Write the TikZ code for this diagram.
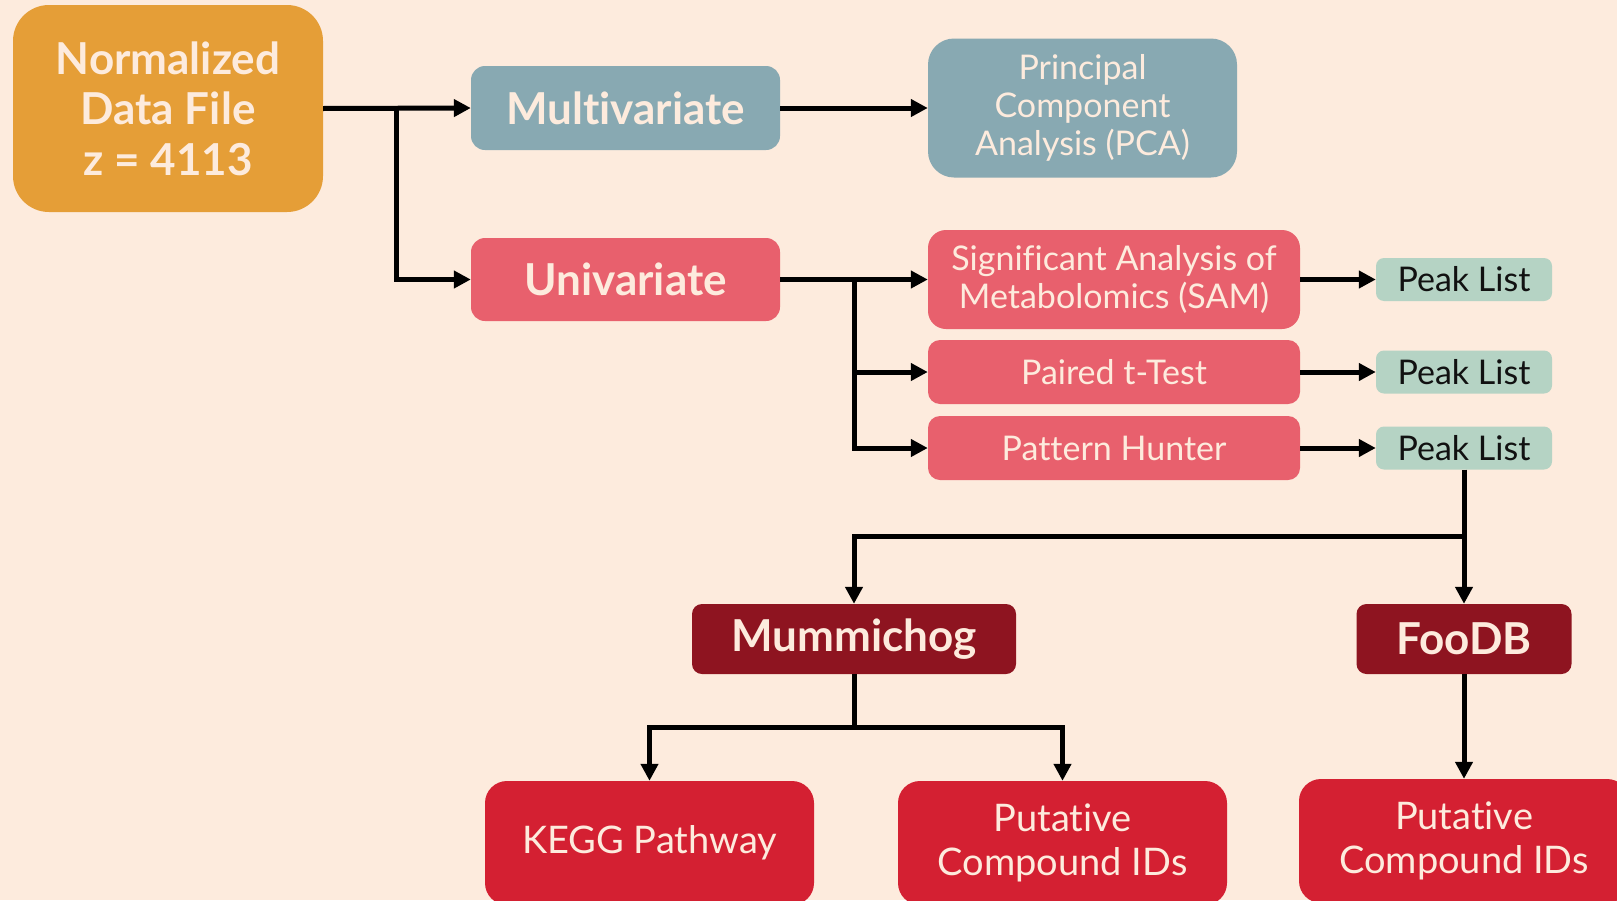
\documentclass[tikz,border=0pt]{standalone}
\usepackage{fontspec}
\setmainfont{Lato}[Ligatures={NoCommon}]
\usetikzlibrary{arrows.meta}
\definecolor{bg}{HTML}{FDEBDD}
\definecolor{cream}{HTML}{FDEBDD}
\definecolor{orangebox}{HTML}{E59E37}
\definecolor{bluebox}{HTML}{88A9B2}
\definecolor{pinkbox}{HTML}{E8606D}
\definecolor{greenbox}{HTML}{B5D3C4}
\definecolor{darkred}{HTML}{8E1420}
\definecolor{redbox}{HTML}{D42032}
\definecolor{ink}{HTML}{111111}
\begin{document}
\begin{tikzpicture}[x=1pt,y=-1pt,
  boxbase/.style={align=center, inner sep=0pt, text=cream},
  bigbold/.style={font=\fontsize{44}{50.5}\selectfont\bfseries},
  midtext/.style={font=\fontsize{34}{38}\selectfont},
  peakbox/.style={boxbase, fill=greenbox, text=ink, rounded corners=8pt, minimum width=176pt, minimum height=43pt, font=\fontsize{34}{38}\selectfont},
  pinkstep/.style={boxbase, fill=pinkbox, minimum width=372pt, midtext},
  botbox/.style={boxbase, fill=redbox, rounded corners=22pt, minimum width=329pt, minimum height=124pt, font=\fontsize{38}{44}\selectfont},
  conn/.style={line width=5pt, -{Triangle[length=17pt,width=17pt]}},
  plain/.style={line width=5pt}]
\useasboundingbox (0,0) rectangle (1617,900);
\fill[bg] (0,0) rectangle (1617,900);
\clip (0,0) rectangle (1617,900);

\node[boxbase, fill=orangebox, rounded corners=36pt, minimum width=310pt, minimum height=207pt, bigbold] (norm) at (168,108.5) {Normalized\\Data File\\z = 4113};
\node[boxbase, fill=bluebox, rounded corners=14pt, minimum width=309pt, minimum height=84pt, bigbold] (mult) at (625.5,108) {Multivariate};
\node[boxbase, fill=pinkbox, rounded corners=14pt, minimum width=309pt, minimum height=83pt, bigbold] (univ) at (625.5,279.5) {Univariate};
\node[boxbase, fill=bluebox, rounded corners=26pt, minimum width=309pt, minimum height=139pt, midtext] (pca) at (1082.5,108) {Principal\\Component\\Analysis (PCA)};
\node[pinkstep, rounded corners=18pt, minimum height=99pt] (sam) at (1114,279.5) {Significant Analysis of\\Metabolomics (SAM)};
\node[pinkstep, rounded corners=12pt, minimum height=64pt] (paired) at (1114,372) {Paired t-Test};
\node[pinkstep, rounded corners=12pt, minimum height=64pt] (pattern) at (1114,448) {Pattern Hunter};
\node[peakbox] (peak1) at (1464,279.5) {Peak List};
\node[peakbox] (peak2) at (1464,372) {Peak List};
\node[peakbox] (peak3) at (1464,448) {Peak List};
\node[boxbase, fill=darkred, rounded corners=10pt, minimum width=324pt, minimum height=70pt, bigbold] (mumm) at (854,639) {Mummichog};
\node[boxbase, fill=darkred, rounded corners=10pt, minimum width=215pt, minimum height=70pt, bigbold] (foodb) at (1464,639) {FooDB};
\node[botbox] (kegg) at (649.5,843) {KEGG Pathway};
\node[botbox] (put1) at (1062.5,843) {Putative\\Compound IDs};
\node[botbox, minimum width=330pt] (put2) at (1464,841) {Putative\\Compound IDs};

\coordinate (j1) at (396,108.5);
\coordinate (j2) at (854,279.5);
\coordinate (j3) at (1464,536);
\coordinate (j4) at (854,727);

\draw[conn] (norm.east) -- (mult.west);
\draw[conn] (j1) |- (univ.west);
\draw[conn] (mult.east) -- (pca.west);
\draw[conn] (univ.east) -- (sam.west);
\draw[conn] (j2) |- (paired.west);
\draw[conn] (j2) |- (pattern.west);
\draw[conn] (sam.east) -- (peak1.west);
\draw[conn] (paired.east) -- (peak2.west);
\draw[conn] (pattern.east) -- (peak3.west);
\draw[conn] (peak3.south) -- (foodb.north);
\draw[conn] (j3) -| (mumm.north);
\draw[plain] (mumm.south) -- (j4);
\draw[conn] (j4) -| (kegg.north);
\draw[conn] (j4) -| (put1.north);
\draw[conn] (foodb.south) -- (put2.north);
\end{tikzpicture}
\end{document}
